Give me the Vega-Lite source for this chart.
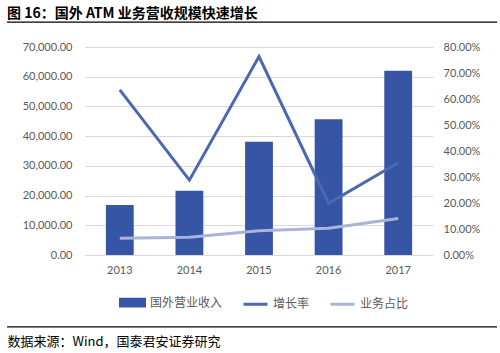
{
  "$schema": "https://vega.github.io/schema/vega-lite/v6.json",
  "width": 348,
  "height": 208,
  "autosize": {"type": "none"},
  "padding": {"left": 85, "top": 47, "right": 67, "bottom": 98},
  "background": "white",
  "config": {
    "view": {"stroke": null},
    "axis": {"labelFont": "Lato", "labelFontSize": 11, "labelColor": "#595959", "labelOverlap": false}
  },
  "title": {
    "text": "图 16：国外 ATM 业务营收规模快速增长",
    "anchor": "start",
    "frame": "group",
    "dx": -78,
    "dy": 8,
    "offset": 8,
    "font": "Noto Sans CJK SC",
    "fontSize": 14,
    "fontWeight": "bold",
    "color": "#000000"
  },
  "data": {
    "values": [
      {"year": "2013", "revenue": 16830, "growth": 0.635, "share": 0.064},
      {"year": "2014", "revenue": 21640, "growth": 0.288, "share": 0.068},
      {"year": "2015", "revenue": 38130, "growth": 0.763, "share": 0.093},
      {"year": "2016", "revenue": 45670, "growth": 0.199, "share": 0.103},
      {"year": "2017", "revenue": 62030, "growth": 0.355, "share": 0.140}
    ]
  },
  "layer": [
    {
      "layer": [
        {
          "mark": {"type": "bar"},
          "encoding": {
            "x": {
              "field": "year",
              "type": "nominal",
              "scale": {"paddingInner": 0.6, "paddingOuter": 0.3},
              "axis": {
                "labelAngle": 0,
                "ticks": false,
                "domain": true,
                "domainColor": "#D9D9D9",
                "labelPadding": 9,
                "title": "数据来源：Wind，国泰君安证券研究",
                "titleFont": "Noto Sans CJK SC",
                "titleFontSize": 13,
                "titleFontWeight": "normal",
                "titleColor": "#000000",
                "titleAlign": "left",
                "titleBaseline": "middle",
                "titleX": -78,
                "titleY": 86
              }
            },
            "y": {
              "field": "revenue",
              "type": "quantitative",
              "scale": {"domain": [0, 70000], "nice": false},
              "axis": {
                "orient": "left",
                "values": [0, 10000, 20000, 30000, 40000, 50000, 60000, 70000],
                "format": ",.2f",
                "domain": false,
                "ticks": false,
                "grid": true,
                "gridColor": "#D9D9D9",
                "labelPadding": 13,
                "labelOverlap": false,
                "title": null
              }
            },
            "color": {
              "datum": "国外营业收入",
              "type": "nominal",
              "scale": {
                "domain": ["国外营业收入", "增长率", "业务占比"],
                "range": ["#3655A5", "#4A69B0", "#A9B4DA"]
              },
              "legend": {
                "orient": "none",
                "legendX": 34,
                "legendY": 242,
                "direction": "horizontal",
                "title": null,
                "labelFont": "Noto Sans CJK SC",
                "labelFontSize": 12,
                "labelColor": "#595959",
                "symbolSize": 576,
                "columnPadding": 14,
                "labelOffset": 4,
                "encode": {
                  "symbols": {
                    "update": {
                      "shape": {"signal": "datum.value === '国外营业收入' ? 'M-1,-0.28H1V0.28H-1Z' : 'M-1,0H1'"},
                      "fill": {"signal": "datum.value === '国外营业收入' ? '#3655A5' : 'transparent'"},
                      "stroke": {"signal": "datum.value === '国外营业收入' ? 'transparent' : (datum.value === '增长率' ? '#4A69B0' : '#A9B4DA')"},
                      "strokeWidth": {"value": 3},
                      "opacity": {"value": 1}
                    }
                  }
                }
              }
            }
          }
        },
        {
          "layer": [
            {
              "mark": {"type": "line", "strokeWidth": 3},
              "encoding": {
                "x": {"field": "year", "type": "nominal"},
                "y": {
                  "field": "growth",
                  "type": "quantitative",
                  "scale": {"domain": [0, 0.8], "nice": false},
                  "axis": {
                    "orient": "right",
                    "values": [0, 0.1, 0.2, 0.3, 0.4, 0.5, 0.6, 0.7, 0.8],
                    "format": ".2%",
                    "domain": false,
                    "ticks": false,
                    "grid": false,
                    "labelPadding": 10,
                    "labelOverlap": false,
                    "title": null
                  }
                },
                "color": {"datum": "增长率", "type": "nominal"}
              }
            },
            {
              "mark": {"type": "line", "strokeWidth": 3},
              "encoding": {
                "x": {"field": "year", "type": "nominal"},
                "y": {
                  "field": "share",
                  "type": "quantitative",
                  "axis": {
                    "orient": "right",
                    "values": [0, 0.1, 0.2, 0.3, 0.4, 0.5, 0.6, 0.7, 0.8],
                    "format": ".2%",
                    "domain": false,
                    "ticks": false,
                    "grid": false,
                    "labelPadding": 10,
                    "labelOverlap": false,
                    "title": null
                  }
                },
                "color": {"datum": "业务占比", "type": "nominal"}
              }
            }
          ]
        }
      ],
      "resolve": {"scale": {"y": "independent"}}
    },
    {
      "data": {"values": [{"k": 1}]},
      "layer": [
        {
          "mark": {"type": "rule", "color": "#000000", "strokeWidth": 1.2},
          "encoding": {
            "x": {"datum": -0.224, "type": "quantitative", "scale": {"domain": [0, 1], "nice": false, "zero": false}, "axis": null},
            "x2": {"datum": 1.184},
            "y": {"datum": 1.12, "type": "quantitative", "scale": {"domain": [0, 1], "nice": false, "zero": false}, "axis": null}
          }
        },
        {
          "mark": {"type": "rule", "color": "#000000", "strokeWidth": 1.2},
          "encoding": {
            "x": {"datum": -0.224, "type": "quantitative"},
            "x2": {"datum": 1.184},
            "y": {"datum": -0.346, "type": "quantitative"}
          }
        }
      ]
    }
  ],
  "resolve": {"scale": {"x": "independent", "y": "independent"}}
}
